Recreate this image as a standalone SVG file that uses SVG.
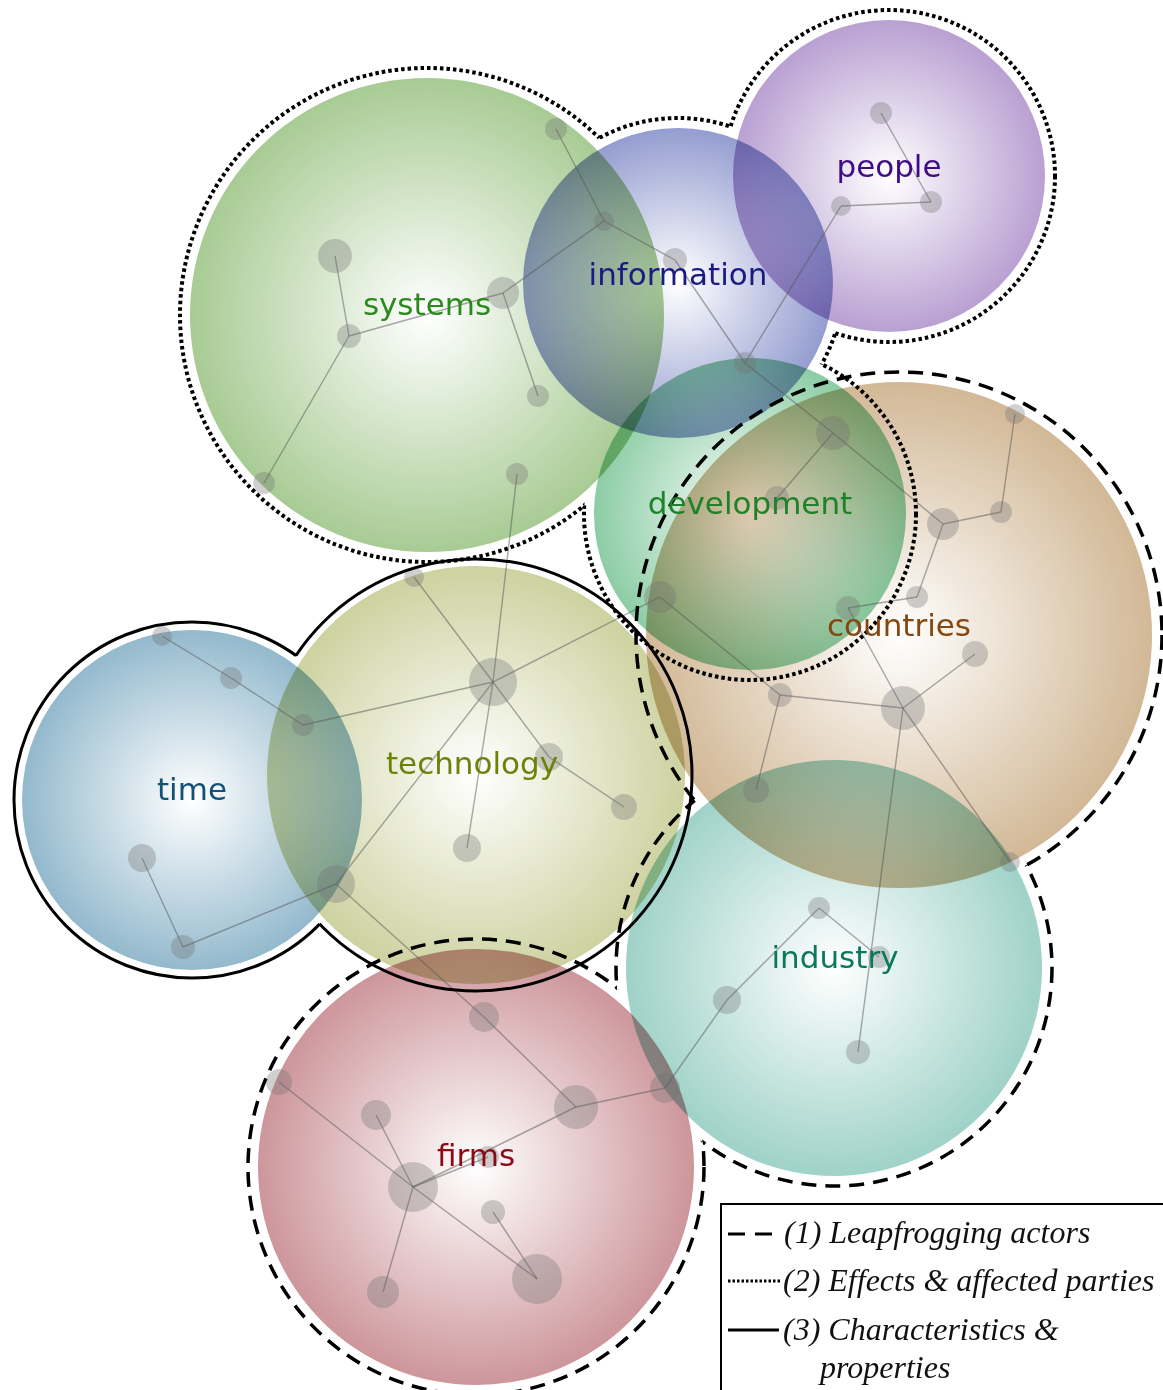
<svg xmlns="http://www.w3.org/2000/svg" width="1163" height="1390" viewBox="0 0 1163 1390">
<style>
.blob{mix-blend-mode:multiply}
.lbl{font-family:"DejaVu Sans",sans-serif;font-size:31px;text-anchor:middle}
.edge{stroke:#555;stroke-opacity:0.5;stroke-width:1.4;fill:none}
.pt{fill:#707070;fill-opacity:0.33}
.dot{fill:none;stroke:#000;stroke-width:4;stroke-dasharray:3.5 3}
.dash{fill:none;stroke:#000;stroke-width:3.5;stroke-dasharray:15 9}
.solid{fill:none;stroke:#000;stroke-width:3}
.leg{font-family:"Liberation Serif",serif;font-style:italic;font-size:32px;fill:#111}
</style>
<defs>
<radialGradient id="gSys"><stop offset="0" stop-color="#fff"/><stop offset="1" stop-color="#a8cb94"/></radialGradient>
<radialGradient id="gInf"><stop offset="0" stop-color="#fff"/><stop offset="1" stop-color="#949dd0"/></radialGradient>
<radialGradient id="gPeo"><stop offset="0" stop-color="#fff"/><stop offset="1" stop-color="#b9a0d2"/></radialGradient>
<radialGradient id="gDev"><stop offset="0" stop-color="#fff"/><stop offset="1" stop-color="#8ccda5"/></radialGradient>
<radialGradient id="gCou"><stop offset="0" stop-color="#fff"/><stop offset="1" stop-color="#d2b896"/></radialGradient>
<radialGradient id="gTec"><stop offset="0" stop-color="#fff"/><stop offset="1" stop-color="#cdd2a0"/></radialGradient>
<radialGradient id="gTim"><stop offset="0" stop-color="#fff"/><stop offset="1" stop-color="#93b9cd"/></radialGradient>
<radialGradient id="gInd"><stop offset="0" stop-color="#fff"/><stop offset="1" stop-color="#9fd2c8"/></radialGradient>
<radialGradient id="gFir"><stop offset="0" stop-color="#fff"/><stop offset="1" stop-color="#cd969b"/></radialGradient>
<mask id="mSys" maskUnits="userSpaceOnUse" x="0" y="0" width="1163" height="1390"><rect width="1163" height="1390" fill="#fff"/><circle cx="678" cy="283" r="165"/><circle cx="889" cy="176" r="166"/><circle cx="750" cy="514" r="166"/></mask>
<mask id="mInf" maskUnits="userSpaceOnUse" x="0" y="0" width="1163" height="1390"><rect width="1163" height="1390" fill="#fff"/><circle cx="427" cy="315" r="247"/><circle cx="889" cy="176" r="166"/><circle cx="750" cy="514" r="166"/></mask>
<mask id="mPeo" maskUnits="userSpaceOnUse" x="0" y="0" width="1163" height="1390"><rect width="1163" height="1390" fill="#fff"/><circle cx="427" cy="315" r="247"/><circle cx="678" cy="283" r="165"/><circle cx="750" cy="514" r="166"/></mask>
<mask id="mDev" maskUnits="userSpaceOnUse" x="0" y="0" width="1163" height="1390"><rect width="1163" height="1390" fill="#fff"/><circle cx="427" cy="315" r="247"/><circle cx="678" cy="283" r="165"/><circle cx="889" cy="176" r="166"/></mask>
<mask id="mCou" maskUnits="userSpaceOnUse" x="0" y="0" width="1163" height="1390"><rect width="1163" height="1390" fill="#fff"/><circle cx="834" cy="968" r="218"/><circle cx="476" cy="1167" r="228"/></mask>
<mask id="mInd" maskUnits="userSpaceOnUse" x="0" y="0" width="1163" height="1390"><rect width="1163" height="1390" fill="#fff"/><circle cx="899" cy="635" r="263"/><circle cx="476" cy="1167" r="228"/></mask>
<mask id="mFir" maskUnits="userSpaceOnUse" x="0" y="0" width="1163" height="1390"><rect width="1163" height="1390" fill="#fff"/><circle cx="899" cy="635" r="263"/><circle cx="834" cy="968" r="218"/></mask>
<mask id="mTim" maskUnits="userSpaceOnUse" x="0" y="0" width="1163" height="1390"><rect width="1163" height="1390" fill="#fff"/><circle cx="476" cy="775" r="216"/></mask>
<mask id="mTec" maskUnits="userSpaceOnUse" x="0" y="0" width="1163" height="1390"><rect width="1163" height="1390" fill="#fff"/><circle cx="192" cy="800" r="178"/></mask>
</defs>
<rect width="1163" height="1390" fill="#fff"/>

<g id="clusters">
<g id="systems" class="blob"><circle cx="427" cy="315" r="237" fill="url(#gSys)"/></g>
<g id="information" class="blob"><circle cx="678" cy="283" r="155" fill="url(#gInf)"/></g>
<g id="people" class="blob"><circle cx="889" cy="176" r="156" fill="url(#gPeo)"/></g>
<g id="development" class="blob"><circle cx="750" cy="514" r="156" fill="url(#gDev)"/></g>
<g id="countries" class="blob"><circle cx="899" cy="635" r="253" fill="url(#gCou)"/></g>
<g id="technology" class="blob"><circle cx="476" cy="775" r="209" fill="url(#gTec)"/></g>
<g id="time" class="blob"><circle cx="192" cy="800" r="170" fill="url(#gTim)"/></g>
<g id="industry" class="blob"><circle cx="834" cy="968" r="208" fill="url(#gInd)"/></g>
<g id="firms" class="blob"><circle cx="476" cy="1167" r="218" fill="url(#gFir)"/></g>
</g>

<g id="connectors" class="edge">
<line x1="556" y1="129" x2="604" y2="221"/>
<line x1="604" y1="221" x2="503" y2="293"/>
<line x1="604" y1="221" x2="675" y2="260"/>
<line x1="675" y1="260" x2="745" y2="363"/>
<line x1="335" y1="256" x2="349" y2="336"/>
<line x1="349" y1="336" x2="503" y2="293"/>
<line x1="349" y1="336" x2="264" y2="483"/>
<line x1="503" y1="293" x2="538" y2="396"/>
<line x1="517" y1="474" x2="493" y2="682"/>
<line x1="881" y1="113" x2="931" y2="202"/>
<line x1="931" y1="202" x2="841" y2="206"/>
<line x1="841" y1="206" x2="745" y2="363"/>
<line x1="745" y1="363" x2="833" y2="433"/>
<line x1="833" y1="433" x2="943" y2="524"/>
<line x1="833" y1="433" x2="777" y2="498"/>
<line x1="943" y1="524" x2="1001" y2="512"/>
<line x1="1001" y1="512" x2="1015" y2="414"/>
<line x1="943" y1="524" x2="917" y2="597"/>
<line x1="917" y1="597" x2="848" y2="608"/>
<line x1="848" y1="608" x2="903" y2="708"/>
<line x1="903" y1="708" x2="975" y2="654"/>
<line x1="903" y1="708" x2="780" y2="695"/>
<line x1="780" y1="695" x2="660" y2="597"/>
<line x1="780" y1="695" x2="756" y2="790"/>
<line x1="903" y1="708" x2="1010" y2="862"/>
<line x1="903" y1="708" x2="858" y2="1052"/>
<line x1="660" y1="597" x2="493" y2="682"/>
<line x1="493" y1="682" x2="414" y2="577"/>
<line x1="493" y1="682" x2="303" y2="725"/>
<line x1="493" y1="682" x2="549" y2="757"/>
<line x1="549" y1="757" x2="624" y2="807"/>
<line x1="493" y1="682" x2="467" y2="848"/>
<line x1="493" y1="682" x2="336" y2="884"/>
<line x1="303" y1="725" x2="231" y2="678"/>
<line x1="231" y1="678" x2="162" y2="636"/>
<line x1="336" y1="884" x2="183" y2="947"/>
<line x1="183" y1="947" x2="142" y2="858"/>
<line x1="336" y1="884" x2="484" y2="1017"/>
<line x1="484" y1="1017" x2="576" y2="1107"/>
<line x1="576" y1="1107" x2="665" y2="1088"/>
<line x1="665" y1="1088" x2="727" y2="1000"/>
<line x1="727" y1="1000" x2="819" y2="908"/>
<line x1="819" y1="908" x2="879" y2="957"/>
<line x1="576" y1="1107" x2="413" y2="1187"/>
<line x1="413" y1="1187" x2="488" y2="1157"/>
<line x1="279" y1="1082" x2="413" y2="1187"/>
<line x1="376" y1="1115" x2="413" y2="1187"/>
<line x1="413" y1="1187" x2="383" y2="1292"/>
<line x1="413" y1="1187" x2="537" y2="1279"/>
<line x1="493" y1="1212" x2="537" y2="1279"/>
</g>

<g id="points" class="pt">
<circle id="p1" cx="556" cy="129" r="11"/>
<circle id="p2" cx="604" cy="221" r="10"/>
<circle id="p3" cx="335" cy="256" r="17"/>
<circle id="p4" cx="349" cy="336" r="12"/>
<circle id="p5" cx="503" cy="293" r="16"/>
<circle id="p6" cx="538" cy="396" r="11"/>
<circle id="p7" cx="264" cy="483" r="11"/>
<circle id="p8" cx="517" cy="474" r="11"/>
<circle id="p9" cx="675" cy="260" r="12"/>
<circle id="p10" cx="745" cy="363" r="11"/>
<circle id="p11" cx="881" cy="113" r="11"/>
<circle id="p12" cx="931" cy="202" r="11"/>
<circle id="p13" cx="841" cy="206" r="10"/>
<circle id="p14" cx="833" cy="433" r="17"/>
<circle id="p15" cx="777" cy="498" r="12"/>
<circle id="p16" cx="943" cy="524" r="16"/>
<circle id="p17" cx="1001" cy="512" r="11"/>
<circle id="p18" cx="1015" cy="414" r="10"/>
<circle id="p19" cx="917" cy="597" r="11"/>
<circle id="p20" cx="848" cy="608" r="12"/>
<circle id="p21" cx="975" cy="654" r="13"/>
<circle id="p22" cx="903" cy="708" r="22"/>
<circle id="p23" cx="780" cy="695" r="12"/>
<circle id="p24" cx="660" cy="597" r="16"/>
<circle id="p25" cx="756" cy="790" r="13"/>
<circle id="p26" cx="1010" cy="862" r="10"/>
<circle id="p27" cx="414" cy="577" r="10"/>
<circle id="p28" cx="493" cy="682" r="24"/>
<circle id="p29" cx="549" cy="757" r="14"/>
<circle id="p30" cx="624" cy="807" r="13"/>
<circle id="p31" cx="467" cy="848" r="14"/>
<circle id="p32" cx="336" cy="884" r="19"/>
<circle id="p33" cx="303" cy="725" r="11"/>
<circle id="p34" cx="162" cy="636" r="10"/>
<circle id="p35" cx="231" cy="678" r="11"/>
<circle id="p36" cx="142" cy="858" r="14"/>
<circle id="p37" cx="183" cy="947" r="12"/>
<circle id="p38" cx="819" cy="908" r="11"/>
<circle id="p39" cx="879" cy="957" r="11"/>
<circle id="p40" cx="727" cy="1000" r="14"/>
<circle id="p41" cx="858" cy="1052" r="12"/>
<circle id="p42" cx="665" cy="1088" r="15"/>
<circle id="p43" cx="484" cy="1017" r="15"/>
<circle id="p44" cx="576" cy="1107" r="22"/>
<circle id="p45" cx="279" cy="1082" r="13"/>
<circle id="p46" cx="376" cy="1115" r="15"/>
<circle id="p47" cx="413" cy="1187" r="25"/>
<circle id="p48" cx="488" cy="1157" r="11"/>
<circle id="p49" cx="493" cy="1212" r="12"/>
<circle id="p50" cx="537" cy="1279" r="25"/>
<circle id="p51" cx="383" cy="1292" r="16"/>
</g>

<g id="outline-effects">
<circle class="dot" cx="427" cy="315" r="247" mask="url(#mSys)"/>
<circle class="dot" cx="678" cy="283" r="165" mask="url(#mInf)"/>
<circle class="dot" cx="889" cy="176" r="166" mask="url(#mPeo)"/>
<circle class="dot" cx="750" cy="514" r="166" mask="url(#mDev)"/>
</g>
<g id="outline-actors">
<circle class="dash" cx="899" cy="635" r="263" mask="url(#mCou)"/>
<circle class="dash" cx="834" cy="968" r="218" mask="url(#mInd)"/>
<circle class="dash" cx="476" cy="1167" r="228" mask="url(#mFir)"/>
</g>
<g id="outline-characteristics">
<circle class="solid" cx="192" cy="800" r="178" mask="url(#mTim)"/>
<circle class="solid" cx="476" cy="775" r="216" mask="url(#mTec)"/>
</g>

<g id="labels" class="lbl">
<text x="427" y="315" fill="#2a8a1e">systems</text>
<text x="678" y="285" fill="#1a1a82">information</text>
<text x="889" y="177" fill="#3e0c86">people</text>
<text x="750" y="514" fill="#1e8228">development</text>
<text x="899" y="636" fill="#87460f">countries</text>
<text x="472" y="774" fill="#6e820a">technology</text>
<text x="192" y="800" fill="#145078">time</text>
<text x="835" y="968" fill="#0a785a">industry</text>
<text x="476" y="1166" fill="#8c0a14">firms</text>
</g>

<g id="legend">
<rect x="721" y="1204" width="460" height="200" fill="#fff" stroke="#000" stroke-width="2"/>
<line x1="728" y1="1234" x2="776" y2="1234" stroke="#000" stroke-width="3" stroke-dasharray="17 10"/>
<line x1="728" y1="1281" x2="781" y2="1281" stroke="#000" stroke-width="3" stroke-dasharray="2.5 2"/>
<line x1="728" y1="1330" x2="779" y2="1330" stroke="#000" stroke-width="3"/>
<text class="leg" x="784" y="1243">(1) Leapfrogging actors</text>
<text class="leg" x="783" y="1291">(2) Effects &amp; affected parties</text>
<text class="leg" x="783" y="1340">(3) Characteristics &amp;</text>
<text class="leg" x="820" y="1378">properties</text>
</g>
</svg>
